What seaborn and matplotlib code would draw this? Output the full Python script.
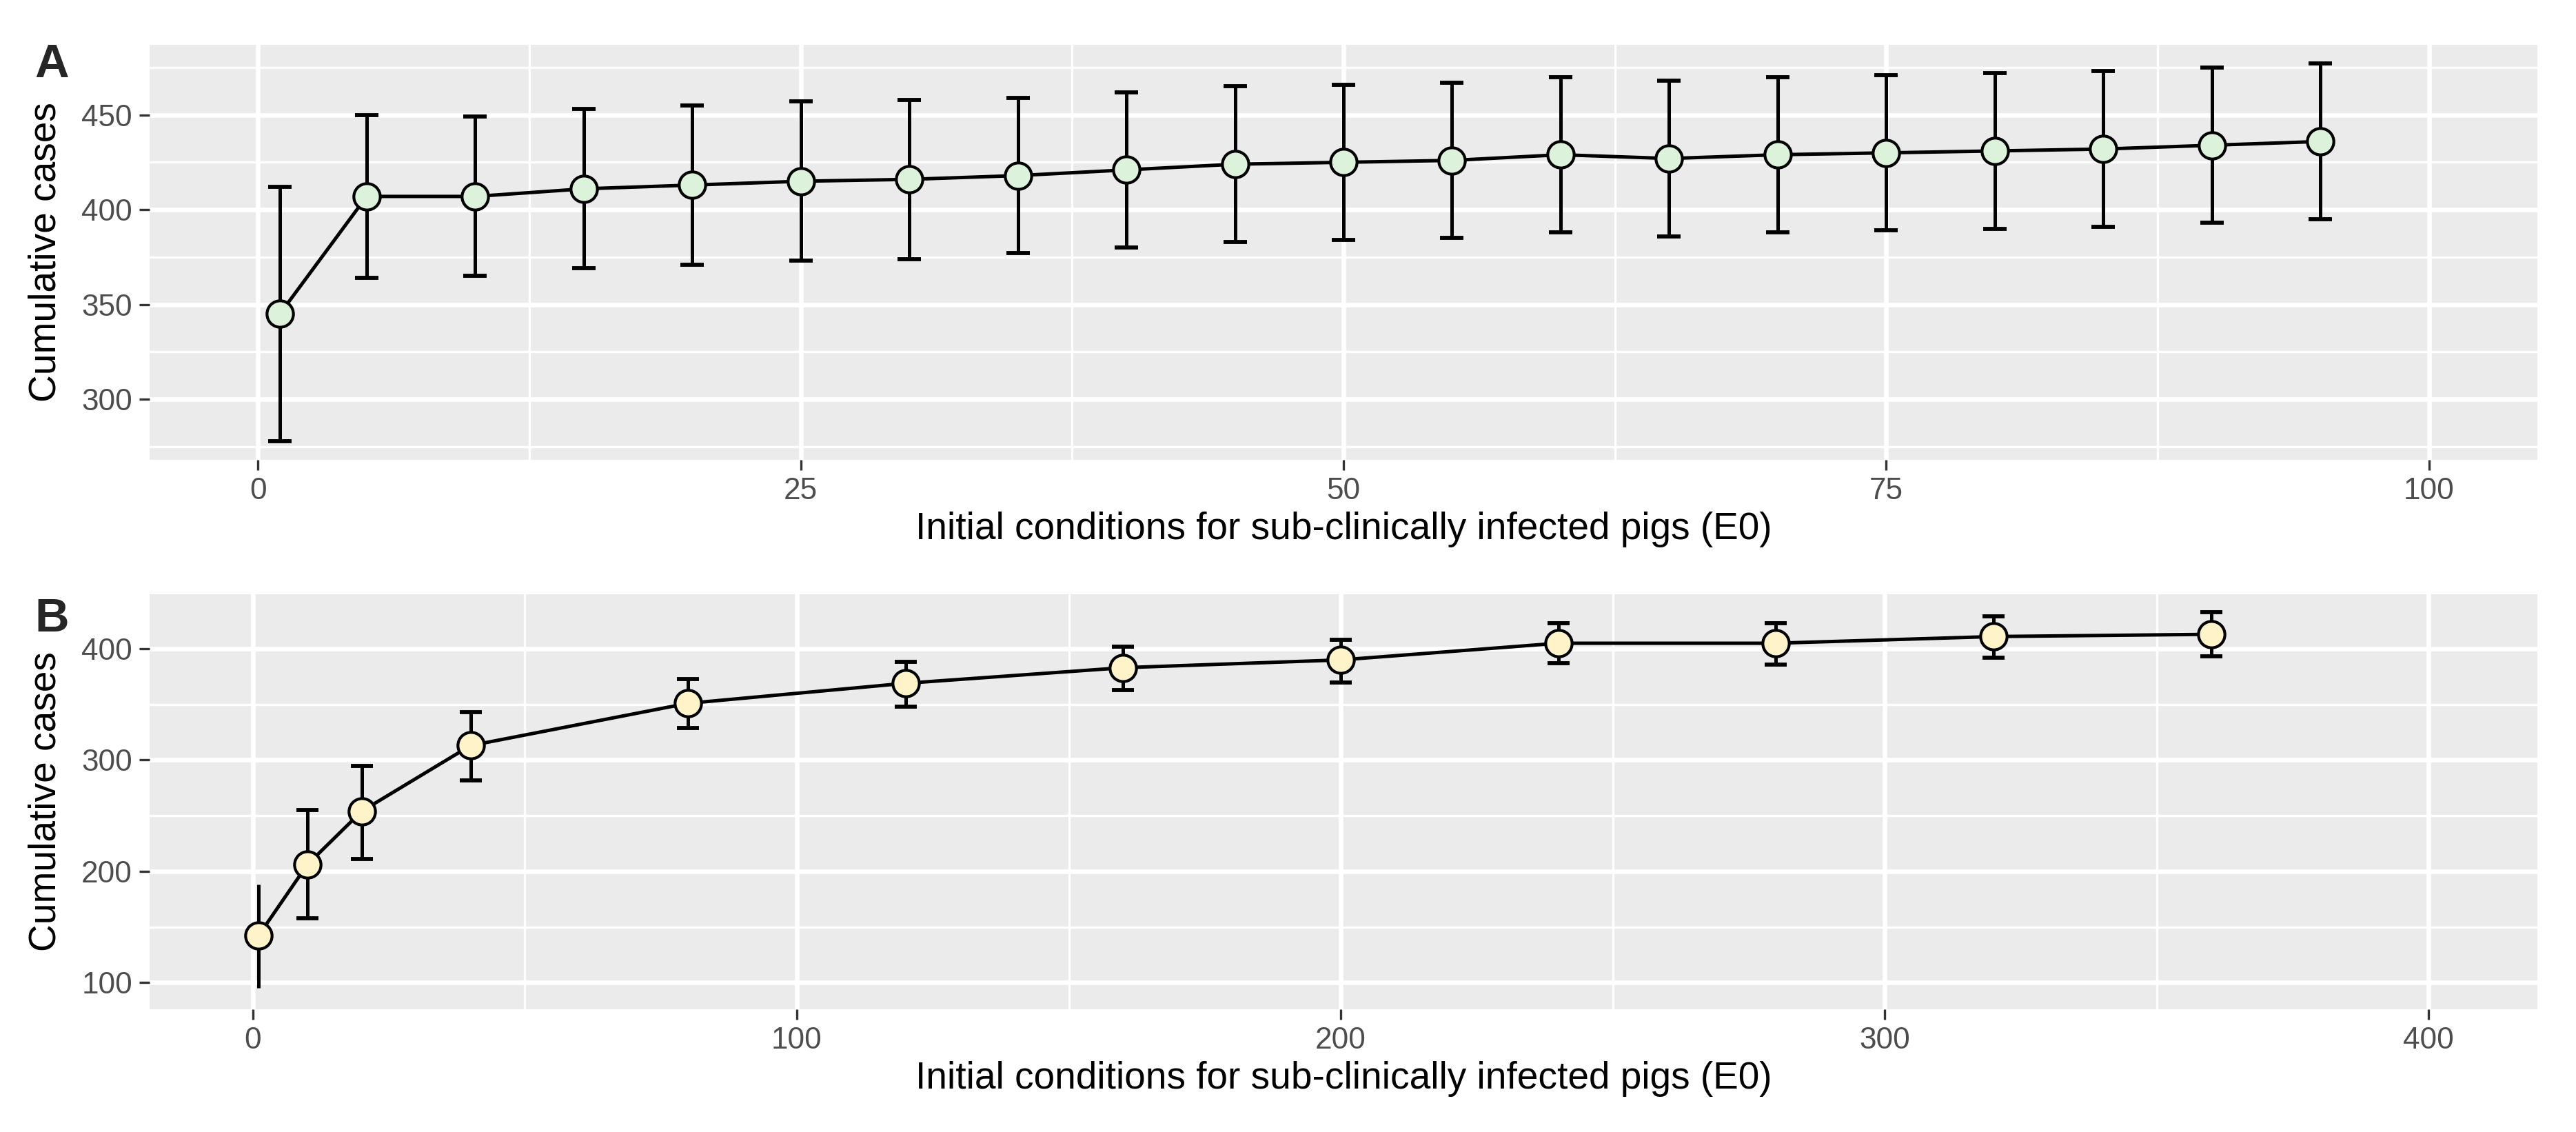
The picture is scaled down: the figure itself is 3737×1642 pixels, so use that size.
import numpy as np
import pandas as pd
import matplotlib
matplotlib.use("Agg")
import matplotlib.pyplot as plt
import seaborn as sns
from matplotlib.ticker import MultipleLocator

# Panel A: E0 from 1 to 95
e0_a = [1, 5, 10, 15, 20, 25, 30, 35, 40, 45, 50, 55, 60, 65, 70, 75, 80, 85, 90, 95]
cases_a = [345, 407, 407, 411, 413, 415, 416, 418, 421, 424, 425, 426, 429, 427, 429, 430, 431, 432, 434, 436]
upper_a = [412, 450, 449, 453, 455, 457, 458, 459, 462, 465, 466, 467, 470, 468, 470, 471, 472, 473, 475, 477]
lower_a = [278, 364, 365, 369, 371, 373, 374, 377, 380, 383, 384, 385, 388, 386, 388, 389, 390, 391, 393, 395]

# Panel B: E0 from 1 to 360
e0_b = [1, 10, 20, 40, 80, 120, 160, 200, 240, 280, 320, 360]
cases_b = [142, 206, 254, 313, 351, 369, 383, 390, 405, 405, 411, 413]
upper_b = [188, 255, 295, 343, 373, 388, 402, 408, 423, 423, 429, 433]
lower_b = [95, 158, 211, 282, 329, 348, 363, 370, 387, 386, 392, 393]

xlabel = "Initial conditions for sub-clinically infected pigs (E0)"
ylabel = "Cumulative cases"

sns.set_theme(style="darkgrid", rc={
    "axes.facecolor": "#EBEBEB",
    "grid.color": "white",
    "grid.linewidth": 1.6,
})
plt.rcParams['font.family'] = ['Liberation Sans', 'DejaVu Sans']

fig = plt.figure(figsize=(3737 / 300, 1642 / 300), dpi=300)
W, H = 3737, 1642
ax_a = fig.add_axes([217 / W, 1 - 667 / H, (3681 - 217) / W, 602 / H])
ax_b = fig.add_axes([217 / W, 1 - 1464 / H, (3681 - 217) / W, 602 / H])


def draw_panel(ax, x, y, lo, hi, fill, nocap_first=False):
    df = pd.DataFrame({"x": x, "y": y, "lo": lo, "hi": hi})
    err = [df["y"] - df["lo"], df["hi"] - df["y"]]
    if nocap_first:
        first = df.iloc[:1]
        rest = df.iloc[1:]
        ax.errorbar(first["x"], first["y"], yerr=[first["y"] - first["lo"], first["hi"] - first["y"]],
                    fmt="none", ecolor="black", elinewidth=1.2, capsize=0, zorder=2)
        ax.errorbar(rest["x"], rest["y"], yerr=[rest["y"] - rest["lo"], rest["hi"] - rest["y"]],
                    fmt="none", ecolor="black", elinewidth=1.2, capsize=3.8, capthick=1.4, zorder=2)
    else:
        ax.errorbar(df["x"], df["y"], yerr=err, fmt="none", ecolor="black",
                    elinewidth=1.2, capsize=4.0, capthick=1.4, zorder=2)
    sns.lineplot(data=df, x="x", y="y", ax=ax, color="black", linewidth=1.2,
                 marker="o", markersize=9.2, markerfacecolor=fill,
                 markeredgecolor="black", markeredgewidth=1.0, zorder=3)


draw_panel(ax_a, e0_a, cases_a, lower_a, upper_a, "#DDF2DA")
draw_panel(ax_b, e0_b, cases_b, lower_b, upper_b, "#FFF3C9", nocap_first=True)

ax_a.set_xlim(-5, 105)
ax_a.set_ylim(268, 487)
ax_a.set_xticks([0, 25, 50, 75, 100])
ax_a.set_yticks([300, 350, 400, 450])
ax_a.xaxis.set_minor_locator(MultipleLocator(12.5))
ax_a.yaxis.set_minor_locator(MultipleLocator(25))

ax_b.set_xlim(-19, 420)
ax_b.set_ylim(76, 449)
ax_b.set_xticks([0, 100, 200, 300, 400])
ax_b.set_yticks([100, 200, 300, 400])
ax_b.xaxis.set_minor_locator(MultipleLocator(50))
ax_b.yaxis.set_minor_locator(MultipleLocator(50))

for ax in (ax_a, ax_b):
    ax.grid(which="major", color="white", linewidth=1.6)
    ax.grid(which="minor", color="white", linewidth=0.8)
    ax.set_axisbelow(True)
    ax.tick_params(which="major", bottom=True, left=True, length=3.6, width=0.8,
                   color="#333333", pad=2.4, labelsize=10.6, labelcolor="#4D4D4D")
    ax.tick_params(which="minor", length=0)
    for s in ax.spines.values():
        s.set_visible(False)
    ax.set_xlabel(xlabel, fontsize=13.2, color="black", va="top")
    ax.set_ylabel(ylabel, fontsize=13.2, color="black")
    ax.xaxis.set_label_coords(0.5, -0.125)
    ax.yaxis.set_label_coords(-0.036, 0.5)

fig.text(50 / W, 1 - 62 / H, "A", fontsize=16.5, fontweight="bold", va="top", ha="left")
fig.text(50 / W, 1 - 866 / H, "B", fontsize=16.5, fontweight="bold", va="top", ha="left")

fig.savefig("out.png", dpi=300, facecolor="white")
